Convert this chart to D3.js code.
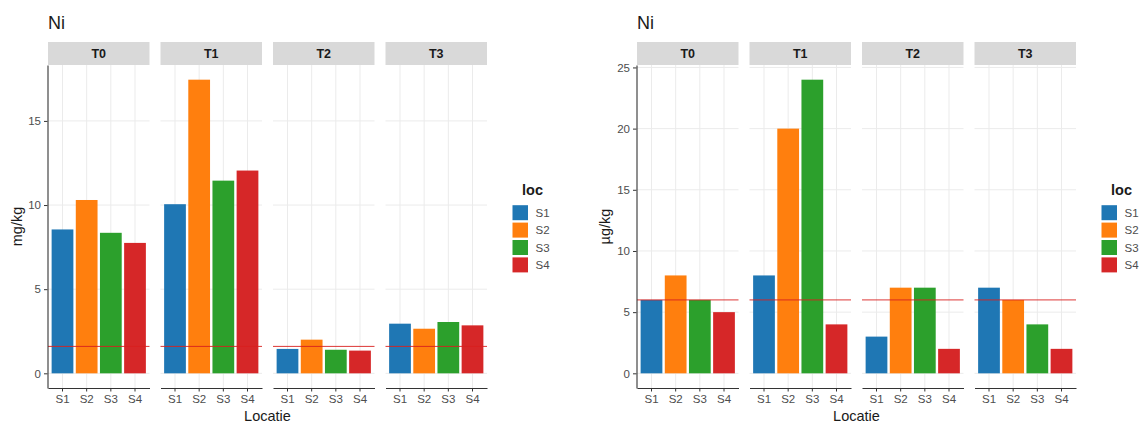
<!DOCTYPE html>
<html>
<head>
<meta charset="utf-8">
<script src="https://cdn.jsdelivr.net/npm/d3@7"></script>
<style>
  html, body { margin: 0; padding: 0; background: #fff; }
  svg { display: block; font-family: "Liberation Sans", Arial, sans-serif; }
</style>
</head>
<body>
<svg id="chart" width="1145" height="423"></svg>
<script>
// Facets (time points) and sampling locations
const facets = ["T0", "T1", "T2", "T3"];
const locs = ["S1", "S2", "S3", "S4"];
const locColors = ["#1f77b4", "#ff7f0e", "#2ca02c", "#d62728"];

// Ni in mg/kg per facet, one value per location
const niMgT0 = [8.55, 10.3, 8.35, 7.75];
const niMgT1 = [10.05, 17.45, 11.45, 12.05];
const niMgT2 = [1.45, 2.0, 1.4, 1.35];
const niMgT3 = [2.95, 2.65, 3.05, 2.85];
const mgTicks = [0, 5, 10, 15];
const mgLimit = 1.6;

// Ni in µg/kg per facet, one value per location
const niUgT0 = [6, 8, 6, 5];
const niUgT1 = [8, 20, 24, 4];
const niUgT2 = [3, 7, 7, 2];
const niUgT3 = [7, 6, 4, 2];
const ugTicks = [0, 5, 10, 15, 20, 25];
const ugLimit = 6;

const svg = d3.select("#chart");

// Shared layout
const stripTop = 42, panelTop = 65, panelBottom = 388;
const panelW = 101.5, gap = 11;
const textGrey = "#4d4d4d", axisCol = "#333333", gridCol = "#ebebeb";

function drawChart(cfg) {
  const maxV = d3.max(cfg.series.flat());
  const y = d3.scaleLinear()
    .domain([-0.05 * maxV, 1.05 * maxV])
    .range([panelBottom, panelTop]);

  const color = d3.scaleOrdinal().domain(locs).range(locColors);
  const chart = svg.append("g");

  facets.forEach((facet, i) => {
    const x0 = cfg.left + i * (panelW + gap);
    const x = d3.scaleBand().domain(locs)
      .range([x0, x0 + panelW])
      .paddingInner(0.1).paddingOuter(0.15);
    const p = chart.append("g");

    // grid
    p.selectAll("line.hgrid").data(cfg.ticks).join("line")
      .attr("class", "hgrid")
      .attr("x1", x0).attr("x2", x0 + panelW)
      .attr("y1", d => y(d)).attr("y2", d => y(d))
      .attr("stroke", gridCol).attr("stroke-width", 1);
    p.selectAll("line.vgrid").data(locs).join("line")
      .attr("class", "vgrid")
      .attr("x1", d => x(d) + x.bandwidth() / 2).attr("x2", d => x(d) + x.bandwidth() / 2)
      .attr("y1", panelTop).attr("y2", panelBottom)
      .attr("stroke", gridCol).attr("stroke-width", 1);

    // bars
    const rows = cfg.series[i].map((v, j) => ({ loc: locs[j], value: v }));
    p.selectAll("rect.bar").data(rows).join("rect")
      .attr("class", "bar")
      .attr("x", d => x(d.loc))
      .attr("width", x.bandwidth())
      .attr("y", d => y(d.value))
      .attr("height", d => y(0) - y(d.value))
      .attr("fill", d => color(d.loc));

    // reference level
    p.append("line")
      .attr("x1", x0).attr("x2", x0 + panelW)
      .attr("y1", y(cfg.limit)).attr("y2", y(cfg.limit))
      .attr("stroke", "#d8201e").attr("stroke-width", 0.9);

    // strip
    p.append("rect")
      .attr("x", x0).attr("y", stripTop)
      .attr("width", panelW).attr("height", panelTop - stripTop)
      .attr("fill", "#d9d9d9");
    p.append("text")
      .attr("x", x0 + panelW / 2).attr("y", (stripTop + panelTop) / 2)
      .attr("dy", "0.35em").attr("text-anchor", "middle")
      .attr("font-size", "12.5px").attr("font-weight", "bold")
      .attr("fill", "#1a1a1a")
      .text(facet);

    // x axis
    const xa = p.append("g")
      .attr("transform", `translate(0,${panelBottom})`)
      .call(d3.axisBottom(x).tickSize(3.5).tickSizeOuter(0).tickPadding(3));
    xa.select(".domain").attr("stroke", axisCol).attr("stroke-width", 1.1);
    xa.selectAll(".tick line").attr("stroke", axisCol);
    xa.selectAll(".tick text").attr("fill", textGrey)
      .attr("font-size", "11.5px").attr("font-family", "Liberation Sans, Arial, sans-serif");
  });

  // y axis
  const ya = chart.append("g")
    .attr("transform", `translate(${cfg.left - 0.5},0)`)
    .call(d3.axisLeft(y).tickValues(cfg.ticks).tickSize(3.5).tickSizeOuter(0).tickPadding(3));
  ya.select(".domain").attr("stroke", axisCol).attr("stroke-width", 1.1);
  ya.selectAll(".tick line").attr("stroke", axisCol);
  ya.selectAll(".tick text").attr("fill", textGrey)
    .attr("font-size", "11.5px").attr("font-family", "Liberation Sans, Arial, sans-serif");

  // titles
  chart.append("text")
    .attr("x", cfg.left).attr("y", 28.5)
    .attr("font-size", "18px").attr("fill", "#1a1a1a")
    .text("Ni");

  const panelsRight = cfg.left + 4 * panelW + 3 * gap;
  chart.append("text")
    .attr("x", (cfg.left + panelsRight) / 2).attr("y", 421)
    .attr("text-anchor", "middle")
    .attr("font-size", "14.5px").attr("fill", "#1a1a1a")
    .text("Locatie");

  chart.append("text")
    .attr("transform", `translate(${cfg.yTitleX},${(panelTop + panelBottom) / 2}) rotate(-90)`)
    .attr("dy", "0.35em")
    .attr("text-anchor", "middle")
    .attr("font-size", "14.5px").attr("fill", "#1a1a1a")
    .text(cfg.yTitle);

  // legend
  const lg = chart.append("g").attr("transform", `translate(${cfg.legendX},0)`);
  lg.append("text")
    .attr("x", 20).attr("y", 195)
    .attr("text-anchor", "middle")
    .attr("font-size", "14.5px").attr("font-weight", "bold").attr("fill", "#1a1a1a")
    .text("loc");
  const keyStep = 17.4;
  const keys = lg.selectAll("g.key").data(locs).join("g")
    .attr("class", "key")
    .attr("transform", (d, j) => `translate(0,${212.7 + j * keyStep})`);
  keys.append("rect")
    .attr("x", 0).attr("y", -7.5).attr("width", 15.5).attr("height", 15)
    .attr("fill", d => color(d));
  keys.append("text")
    .attr("x", 23).attr("dy", "0.35em")
    .attr("font-size", "11.5px").attr("fill", textGrey)
    .text(d => d);
}

drawChart({
  left: 48,
  series: [niMgT0, niMgT1, niMgT2, niMgT3],
  ticks: mgTicks,
  limit: mgLimit,
  yTitle: "mg/kg",
  yTitleX: 17,
  legendX: 512.5
});

drawChart({
  left: 637,
  series: [niUgT0, niUgT1, niUgT2, niUgT3],
  ticks: ugTicks,
  limit: ugLimit,
  yTitle: "µg/kg",
  yTitleX: 605,
  legendX: 1101.5
});
</script>
</body>
</html>
